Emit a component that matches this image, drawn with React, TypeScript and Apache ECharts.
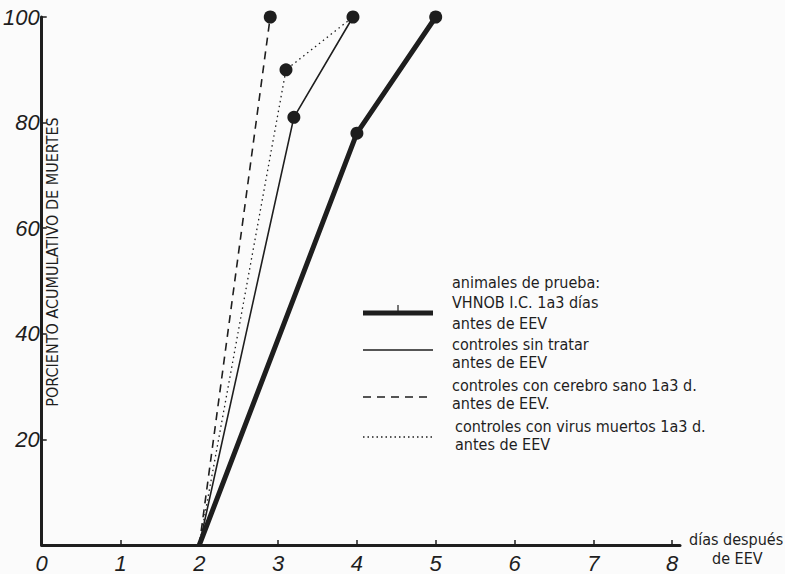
import React, { useEffect, useRef } from "react";
import * as echarts from "echarts";

const xTicks = ["0", "1", "2", "3", "4", "5", "6", "7", "8"];
const yTicks = ["", "20", "40", "60", "80", "100"];

const vhnobX = [2, 4, 5];
const vhnobY = [0, 78, 100];
const sinTratarX = [2, 3.2, 3.95];
const sinTratarY = [0, 81, 100];
const cerebroX = [2, 2.9];
const cerebroY = [0, 100];
const virusX = [2, 3.1, 3.95];
const virusY = [0, 90, 100];

const legendLines = [
  ["animales de prueba:", "VHNOB I.C. 1a3 días", "antes de EEV"],
  ["controles sin tratar", "antes de EEV"],
  ["controles con cerebro sano 1a3 d.", "antes de EEV."],
  ["controles con virus muertos 1a3 d.", "antes de EEV"],
];

const INK = "#1e1e1e";
const FONT = "'DejaVu Sans Condensed', 'DejaVu Sans', sans-serif";

function pts(xs: number[], ys: number[], markers: boolean[]) {
  return xs.map((x, i) => ({
    value: [x, ys[i]],
    symbol: markers[i] ? "circle" : "none",
  }));
}

export default function App() {
  const ref = useRef<HTMLDivElement>(null);
  useEffect(() => {
    document.body.style.margin = "0";
    const chart = echarts.init(ref.current!, null, { renderer: "svg" });
    const legendText: any[] = [];
    const legendY = [
      [284, 304, 325],
      [346, 364],
      [387, 405],
      [428, 446],
    ];
    legendLines.forEach((lines, gi) => {
      lines.forEach((t, li) => {
        legendText.push({
          type: "text",
          left: 452 + (gi === 3 ? 3 : 0),
          top: legendY[gi][li] - 10,
          style: { text: t, fill: INK, font: `16px ${FONT}` },
        });
      });
    });
    const option: any = {
      animation: false,
      backgroundColor: "#fbfbfb",
      grid: { left: 40, top: 17, width: 640, height: 528, containLabel: false },
      xAxis: {
        type: "value",
        min: 0,
        max: 8.1,
        interval: 1,
        splitLine: { show: false },
        axisLine: { lineStyle: { color: INK, width: 3 } },
        axisTick: { inside: true, length: 5, lineStyle: { color: INK, width: 1.5 } },
        axisLabel: {
          formatter: (v: number) => (Number.isInteger(v) ? xTicks[v] ?? "" : ""),
          fontSize: 22,
          fontStyle: "italic",
          fontFamily: "'Liberation Sans', sans-serif",
          color: INK,
          margin: 7,
          showMaxLabel: false,
        },
      },
      yAxis: {
        type: "value",
        min: 0,
        max: 100,
        interval: 20,
        splitLine: { show: false },
        axisLine: { lineStyle: { color: INK, width: 3 } },
        axisTick: { inside: true, length: 5, lineStyle: { color: INK, width: 1.5 } },
        axisLabel: {
          formatter: (v: number) => yTicks[Math.round(v / 20)] ?? "",
          fontSize: 22,
          fontStyle: "italic",
          fontFamily: "'Liberation Sans', sans-serif",
          color: INK,
          margin: 2,
        },
      },
      series: [
        {
          type: "line",
          data: pts(vhnobX, vhnobY, [false, true, true]),
          symbolSize: 13,
          lineStyle: { color: INK, width: 5 },
          itemStyle: { color: INK },
        },
        {
          type: "line",
          data: pts(sinTratarX, sinTratarY, [false, true, true]),
          symbolSize: 13,
          lineStyle: { color: INK, width: 1.6 },
          itemStyle: { color: INK },
        },
        {
          type: "line",
          data: pts(cerebroX, cerebroY, [false, true]),
          symbolSize: 13,
          lineStyle: { color: INK, width: 1.6, type: [8, 6] },
          itemStyle: { color: INK },
        },
        {
          type: "line",
          data: pts(virusX, virusY, [false, true, false]),
          symbolSize: 13,
          lineStyle: { color: INK, width: 1.3, type: [1.5, 3.5] },
          itemStyle: { color: INK },
        },
      ],
      graphic: [
        {
          type: "text",
          left: 689,
          top: 531,
          style: { text: "días después", fill: INK, font: `16px ${FONT}` },
        },
        {
          type: "text",
          left: 712,
          top: 550,
          style: { text: "de EEV", fill: INK, font: `16px ${FONT}` },
        },
        {
          type: "text",
          x: 52,
          y: 262,
          rotation: Math.PI / 2,
          style: {
            text: "PORCIENTO ACUMULATIVO DE MUERTES",
            fill: INK,
            font: `16px ${FONT}`,
            align: "center",
            verticalAlign: "middle",
          },
        },
        { type: "line", shape: { x1: 363, y1: 313, x2: 433, y2: 313 }, style: { stroke: INK, lineWidth: 5 } },
        { type: "line", shape: { x1: 398, y1: 305, x2: 398, y2: 313 }, style: { stroke: INK, lineWidth: 1.2 } },
        { type: "line", shape: { x1: 363, y1: 350, x2: 433, y2: 350 }, style: { stroke: INK, lineWidth: 1.6 } },
        { type: "line", shape: { x1: 363, y1: 397, x2: 433, y2: 397 }, style: { stroke: INK, lineWidth: 1.6, lineDash: [8, 6] } },
        { type: "line", shape: { x1: 363, y1: 437, x2: 433, y2: 437 }, style: { stroke: INK, lineWidth: 1.3, lineDash: [1.5, 3] } },
        ...legendText,
      ],
    };
    chart.setOption(option);
    return () => chart.dispose();
  }, []);
  return (
    <div
      ref={ref}
      style={{ position: "fixed", left: 0, top: 0, width: 785, height: 574 }}
    />
  );
}
